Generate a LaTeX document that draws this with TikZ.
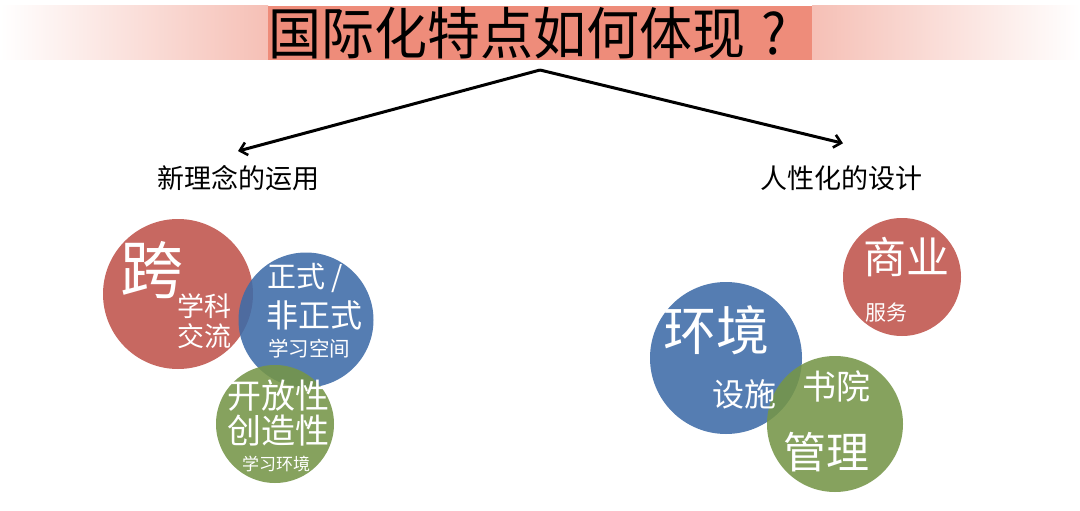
\documentclass[tikz,border=0pt]{standalone}
\usepackage{fontspec}
\newfontfamily\cjk{Noto Sans CJK SC}
\usetikzlibrary{arrows.meta}
\definecolor{salmon}{RGB}{238,140,122}
\definecolor{cred}{RGB}{192,84,76}
\definecolor{cblue}{RGB}{62,108,168}
\definecolor{cgreen}{RGB}{118,150,72}
\newcommand{\fs}[1]{\cjk\fontsize{#1}{#1}\selectfont}
\tikzset{
  disc/.style={circle, inner sep=0pt, fill opacity=0.88, draw=none},
  wt/.style={text=white, font=\cjk, inner sep=0pt},
  bt/.style={text=black, font=\cjk, inner sep=0pt},
  arr/.style={line width=3pt, -{Straight Barb[length=7pt,width=13pt,line width=2.6pt]}}
}
\begin{document}
\begin{tikzpicture}[x=1pt,y=-1pt]
\useasboundingbox (0,0) rectangle (1080,511);
\fill[white] (0,0) rectangle (1080,511);
% title band
\shade[left color=white, right color=salmon!55] (0,6) rectangle (268,60);
\shade[left color=salmon!55, right color=white] (812,6) rectangle (1080,60);
\node[fill=salmon, minimum width=544pt, minimum height=54pt, inner sep=0pt] (title) at (540,33) {};
\node[bt, font=\fs{53}, anchor=west, yscale=1.06] (ttext) at (268,33) {国际化特点如何体现\hspace{0.3em}?};
\coordinate (apex) at (540,70);
% labels
\node[bt, font=\fs{27}] (l1) at (238,178) {新理念的运用};
\node[bt, font=\fs{27}] (l2) at (841,178) {人性化的设计};
\draw[arr] (apex) -- ([yshift=14pt]l1.north);
\draw[arr] (apex) -- ([xshift=2pt,yshift=22pt]l2.north);
% left circles
\node[disc, fill=cred, minimum size=150pt] (c1) at (178,294) {};
\node[disc, fill=cblue, minimum size=135pt] (c2) at (306,320) {};
\node[disc, fill=cgreen, minimum size=118pt] (c3) at (275,424) {};
% right circles
\node[disc, fill=cred, minimum size=118pt] (c4) at (902,277) {};
\node[disc, fill=cblue, minimum size=152pt] (c5) at (726,358) {};
\node[disc, fill=cgreen, minimum size=136pt] (c6) at (835,424) {};
% left texts
\node[wt, font=\fs{63}] (t1) at (152,270) {跨};
\node[wt, font=\fs{27}] (t2a) at (204,306) {学科};
\node[wt, font=\fs{27}] (t2b) at (204,336) {交流};
\node[wt, font=\fs{29}, anchor=west] (t3) at (267,278) {正式 /};
\node[wt, font=\fs{32}, anchor=west] (t4) at (266,315) {非正式};
\node[wt, font=\fs{20.5}, anchor=west] (t5) at (268,349) {学习空间};
\node[wt, font=\fs{34}] (t6) at (278,396) {开放性};
\node[wt, font=\fs{34}] (t7) at (278,431) {创造性};
\node[wt, font=\fs{17}] (t8) at (276,464) {学习环境};
% right texts
\node[wt, font=\fs{43}] (t9) at (906,257) {商业};
\node[wt, font=\fs{21}, anchor=west] (t10) at (865,313) {服务};
\node[wt, font=\fs{53}] (t11) at (716,330) {环境};
\node[wt, font=\fs{32}] (t12) at (744,394) {设施};
\node[wt, font=\fs{34}] (t13) at (836,386) {书院};
\node[wt, font=\fs{43}] (t14) at (826,452) {管理};
\end{tikzpicture}
\end{document}
